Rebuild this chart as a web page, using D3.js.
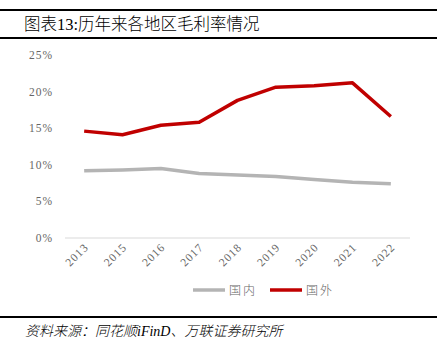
<!DOCTYPE html>
<html>
<head>
<meta charset="utf-8">
<script src="https://cdn.jsdelivr.net/npm/d3@7"></script>
<style>
  body { margin: 0; background: #fff; }
  svg { display: block; }
</style>
</head>
<body>
<div id="chart"></div>
<script>
// Data
const years = ["2013", "2015", "2016", "2017", "2018", "2019", "2020", "2021", "2022"];
const domestic = [9.2, 9.3, 9.5, 8.8, 8.6, 8.4, 8.0, 7.6, 7.4];
const overseas = [14.6, 14.1, 15.4, 15.8, 18.8, 20.6, 20.8, 21.2, 16.6];
const yTicks = [0, 5, 10, 15, 20, 25];
const seriesNames = ["国内", "国外"];
const seriesColors = ["#b4b4b4", "#c00000"];

const width = 446, height = 359;
const serif = "'Liberation Serif', 'Noto Sans CJK SC', serif";

const svg = d3.select("#chart").append("svg")
    .attr("width", width)
    .attr("height", height);

// Header / footer rules
svg.append("rect").attr("x", 0).attr("y", 9).attr("width", 437).attr("height", 2).attr("fill", "#000");
svg.append("rect").attr("x", 0).attr("y", 37).attr("width", 437).attr("height", 2).attr("fill", "#000");
svg.append("rect").attr("x", 0).attr("y", 316).attr("width", 437).attr("height", 2).attr("fill", "#000");

svg.append("text")
    .attr("x", 24).attr("y", 29.5)
    .attr("font-family", serif)
    .attr("font-size", 16.5)
    .attr("font-weight", 300)
    .attr("fill", "#000")
    .text("图表13:历年来各地区毛利率情况");

svg.append("text")
    .attr("x", 25).attr("y", 336)
    .attr("font-family", serif)
    .attr("font-size", 14)
    .attr("font-weight", 300)
    .attr("font-style", "italic")
    .attr("fill", "#000")
    .text("资料来源：同花顺iFinD、万联证券研究所");

// Scales
const x = d3.scaleBand().domain(years).range([65, 410]);
const y = d3.scaleLinear().domain([0, 25]).range([238, 55]);

// Y axis labels
svg.append("g")
    .selectAll("text")
    .data(yTicks)
    .join("text")
    .attr("x", 53)
    .attr("y", d => y(d) + 4)
    .attr("text-anchor", "end")
    .attr("font-family", serif)
    .attr("font-size", 11.5)
    .attr("letter-spacing", 1)
    .attr("fill", "#666")
    .text(d => d + "%");

// Baseline
svg.append("line")
    .attr("x1", 65).attr("x2", 410)
    .attr("y1", y(0)).attr("y2", y(0))
    .attr("stroke", "#d9d9d9")
    .attr("stroke-width", 1);

// X axis labels (rotated)
svg.append("g")
    .selectAll("text")
    .data(years)
    .join("text")
    .attr("transform", d => `translate(${x(d) + x.bandwidth() / 2 + 5},${y(0) + 10}) rotate(-45)`)
    .attr("text-anchor", "end")
    .attr("font-family", serif)
    .attr("font-size", 11.5)
    .attr("letter-spacing", 1)
    .attr("fill", "#666")
    .text(d => d);

// Lines
const line = d3.line()
    .x((d, i) => x(years[i]) + x.bandwidth() / 2)
    .y(d => y(d));

[domestic, overseas].forEach((vals, i) => {
    svg.append("path")
        .datum(vals)
        .attr("d", line)
        .attr("fill", "none")
        .attr("stroke", seriesColors[i])
        .attr("stroke-width", 3.5)
        .attr("stroke-linejoin", "round");
});

// Legend
const legendX = [193, 270];
seriesNames.forEach((name, i) => {
    const g = svg.append("g").attr("transform", `translate(${legendX[i]},290)`);
    g.append("line")
        .attr("x1", 0).attr("x2", 32)
        .attr("y1", 0).attr("y2", 0)
        .attr("stroke", seriesColors[i])
        .attr("stroke-width", 3.5);
    g.append("text")
        .attr("x", 36).attr("y", 5)
        .attr("font-family", serif)
        .attr("font-size", 12)
        .attr("font-weight", 300)
        .attr("letter-spacing", 2)
        .attr("fill", "#666")
        .text(name);
});
</script>
</body>
</html>
